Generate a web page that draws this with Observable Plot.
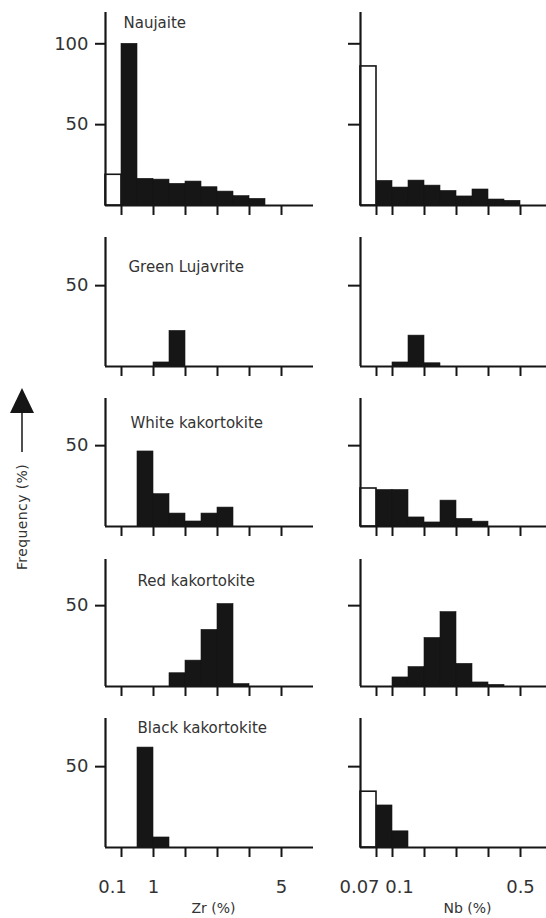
<!DOCTYPE html>
<html><head><meta charset="utf-8">
<script src="https://cdn.jsdelivr.net/npm/d3@7"></script>
<script src="https://cdn.jsdelivr.net/npm/@observablehq/plot@0.6"></script>
<style>
html,body{margin:0;padding:0;background:#fff;}
#chart{position:relative;width:546px;height:918px;overflow:hidden;background:#fff;font-family:"DejaVu Sans",sans-serif;}
#chart > svg{position:absolute;}
</style></head><body><div id="chart"></div>
<script>
// ---------------- data ----------------
const rocks = ["Naujaite", "Green Lujavrite", "White kakortokite", "Red kakortokite", "Black kakortokite"];
// bin edges of the filled histograms (each bin = consecutive pair)
const zrBinEdges = [0.1, 0.5, 1, 1.5, 2, 2.5, 3, 3.5, 4, 4.5, 5];
const nbBinEdges = [0.07, 0.1, 0.15, 0.2, 0.25, 0.3, 0.35, 0.4, 0.45, 0.5];
// open bars: samples below the lowest class limit
const zrLowerLimit = 0.1;
const nbLowerLimit = 0.07;
const zrBelowLimit = [19, 0, 0, 0, 0];
const nbBelowLimit = [86, 0, 23.5, 0, 34.5];
// frequency (%) per bin, Zr
const zrNaujaite         = [100, 16.5, 16, 13.4, 14.8, 11.3, 8.6, 5.8, 4.1, 0];
const zrGreenLujavrite   = [0, 0, 2.5, 22, 0, 0, 0, 0, 0, 0];
const zrWhiteKakortokite = [0, 46.4, 20, 8, 3.1, 8, 11.7, 0, 0, 0];
const zrRedKakortokite   = [0, 0, 0, 8.2, 16, 35, 51, 1.5, 0, 0];
const zrBlackKakortokite = [0, 61.8, 6.2, 0, 0, 0, 0, 0, 0, 0];
// frequency (%) per bin, Nb
const nbNaujaite         = [15.2, 11.1, 15.4, 12.3, 9, 5.6, 9.9, 3.7, 2.9];
const nbGreenLujavrite   = [0, 2.5, 19.1, 2, 0, 0, 0, 0, 0];
const nbWhiteKakortokite = [22.6, 22.6, 5.6, 2.5, 16, 4.7, 3, 0, 0];
const nbRedKakortokite   = [0, 5.6, 12, 30, 46, 14, 2.5, 1, 0];
const nbBlackKakortokite = [26, 10, 0, 0, 0, 0, 0, 0, 0];
// ticks
const zrTicks = [0.1, 1, 2, 3, 4, 5];
const zrTickLabels = ["0.1", "1", "", "", "", "5"];
const nbTicks = [0.07, 0.1, 0.2, 0.3, 0.4, 0.5];
const nbTickLabels = ["0.07", "0.1", "", "", "", "0.5"];
const freqTicksFirst = [50, 100];
const freqTicks = [50];
const zrAxisTitle = "Zr (%)";
const nbAxisTitle = "Nb (%)";
const yAxisTitle = "Frequency (%)";

const zrSeries = [zrNaujaite, zrGreenLujavrite, zrWhiteKakortokite, zrRedKakortokite, zrBlackKakortokite];
const nbSeries = [nbNaujaite, nbGreenLujavrite, nbWhiteKakortokite, nbRedKakortokite, nbBlackKakortokite];

// ---------------- layout ----------------
const ink = "#161616";
const textInk = "#333";
const rowTop  = [12, 237, 398, 559, 718];
const rowBase = [205, 366, 526, 686, 847];
const pxPerUnit = 1.617;
const binW = 16;
const titleDx = [18, 23, 25, 32, 32];
const titleDy = [15, 34, 29, 26, 14];
const cols = [
  {left: 0, width: 320, marginLeft: 105, marginRight: 7,
   domain: [0, zrLowerLimit, 0.5, 1, 6], bins: [0, 1, 2, 3, 13],
   edges: zrBinEdges, below: zrBelowLimit, limit: zrLowerLimit, series: zrSeries,
   ticks: zrTicks, labels: zrTickLabels, nudge: {"0.1": -9}, title: zrAxisTitle, titleDx: 4, showText: true},
  {left: 280, width: 266, marginLeft: 80, marginRight: 0,
   domain: [0, nbLowerLimit, 0.1, 0.58], bins: [0, 1, 2, 11.6],
   edges: nbBinEdges, below: nbBelowLimit, limit: nbLowerLimit, series: nbSeries,
   ticks: nbTicks, labels: nbTickLabels, nudge: {"0.07": -17, "0.1": 7}, title: nbAxisTitle, titleDx: 14, showText: false}
];

const chart = document.getElementById("chart");
const marginTop = 2;

rocks.forEach((rock, r) => {
  cols.forEach((c, ci) => {
    const last = r === rocks.length - 1;
    const marginBottom = last ? 918 - rowBase[r] - 1 : 14;
    const plotH = rowBase[r] - rowTop[r];
    const height = plotH + marginTop + marginBottom;
    const values = c.series[r];
    const bars = values.map((v, i) => ({x1: c.edges[i], x2: c.edges[i + 1], v})).filter(d => d.v > 0);
    const open = c.below[r] > 0 ? [{x1: 0, x2: c.limit, v: c.below[r]}] : [];
    const marks = [
      Plot.rect(open, {x1: "x1", x2: "x2", y1: 0, y2: "v", fill: "white", stroke: ink, strokeWidth: 1.6}),
      Plot.rect(bars, {x1: "x1", x2: "x2", y1: 0, y2: "v", fill: ink, stroke: ink, strokeWidth: 0.6}),
      Plot.ruleX([0], {stroke: ink, strokeWidth: 2.2}),
      Plot.ruleY([0], {stroke: ink, strokeWidth: 2.2}),
      Plot.axisY(r === 0 ? freqTicksFirst : freqTicks, {
        tickSize: ci === 0 ? 10 : 12, tickPadding: 7, fontSize: 18, stroke: ink, strokeWidth: 2,
        fill: textInk, label: null, tickFormat: ci === 0 ? d => String(d) : () => ""}),
      Plot.axisX(c.ticks, {tickSize: 10, stroke: ink, strokeWidth: 2, label: null, tickFormat: () => ""})
    ];
    if (c.showText) {
      marks.push(Plot.text([rock], {frameAnchor: "top-left", textAnchor: "start", lineAnchor: "bottom",
        dx: titleDx[r], dy: titleDy[r], fontSize: 15, fill: textInk}));
    }
    if (last) {
      c.ticks.forEach((t, i) => {
        const lab = c.labels[i];
        if (!lab) return;
        marks.push(Plot.text([{t, lab}], {x: "t", text: "lab", frameAnchor: "bottom", lineAnchor: "bottom",
          dy: 45, dx: c.nudge[lab] || 0, fontSize: 18, fill: textInk}));
      });
      marks.push(Plot.text([c.title], {frameAnchor: "bottom", lineAnchor: "bottom", dy: 65, dx: c.titleDx,
        fontSize: 14, fill: textInk}));
    }
    const svg = Plot.plot({
      width: c.width, height, marginLeft: c.marginLeft, marginRight: c.marginRight,
      marginTop, marginBottom,
      style: {background: "transparent", fontFamily: "DejaVu Sans, sans-serif", overflow: "visible"},
      x: {type: "linear", domain: c.domain, range: c.bins.map(b => c.marginLeft + b * binW), label: null},
      y: {domain: [0, plotH / pxPerUnit], label: null},
      marks
    });
    svg.style.left = c.left + "px";
    svg.style.top = (rowTop[r] - marginTop) + "px";
    chart.appendChild(svg);
  });
});

// Frequency label with arrow
const fs = d3.create("svg").attr("width", 50).attr("height", 200)
  .style("left", "0px").style("top", "380px").style("position", "absolute");
fs.append("path").attr("d", "M10,33 L34,33 L22,8 Z").attr("fill", ink);
fs.append("line").attr("x1", 22).attr("x2", 22).attr("y1", 30).attr("y2", 72).attr("stroke", ink).attr("stroke-width", 1.5);
fs.append("text").attr("transform", "translate(27,137) rotate(-90)").attr("text-anchor", "middle")
  .attr("font-family", "DejaVu Sans, sans-serif").attr("font-size", 14).attr("letter-spacing", 0.4)
  .attr("fill", textInk).text(yAxisTitle);
chart.appendChild(fs.node());
</script></body></html>
